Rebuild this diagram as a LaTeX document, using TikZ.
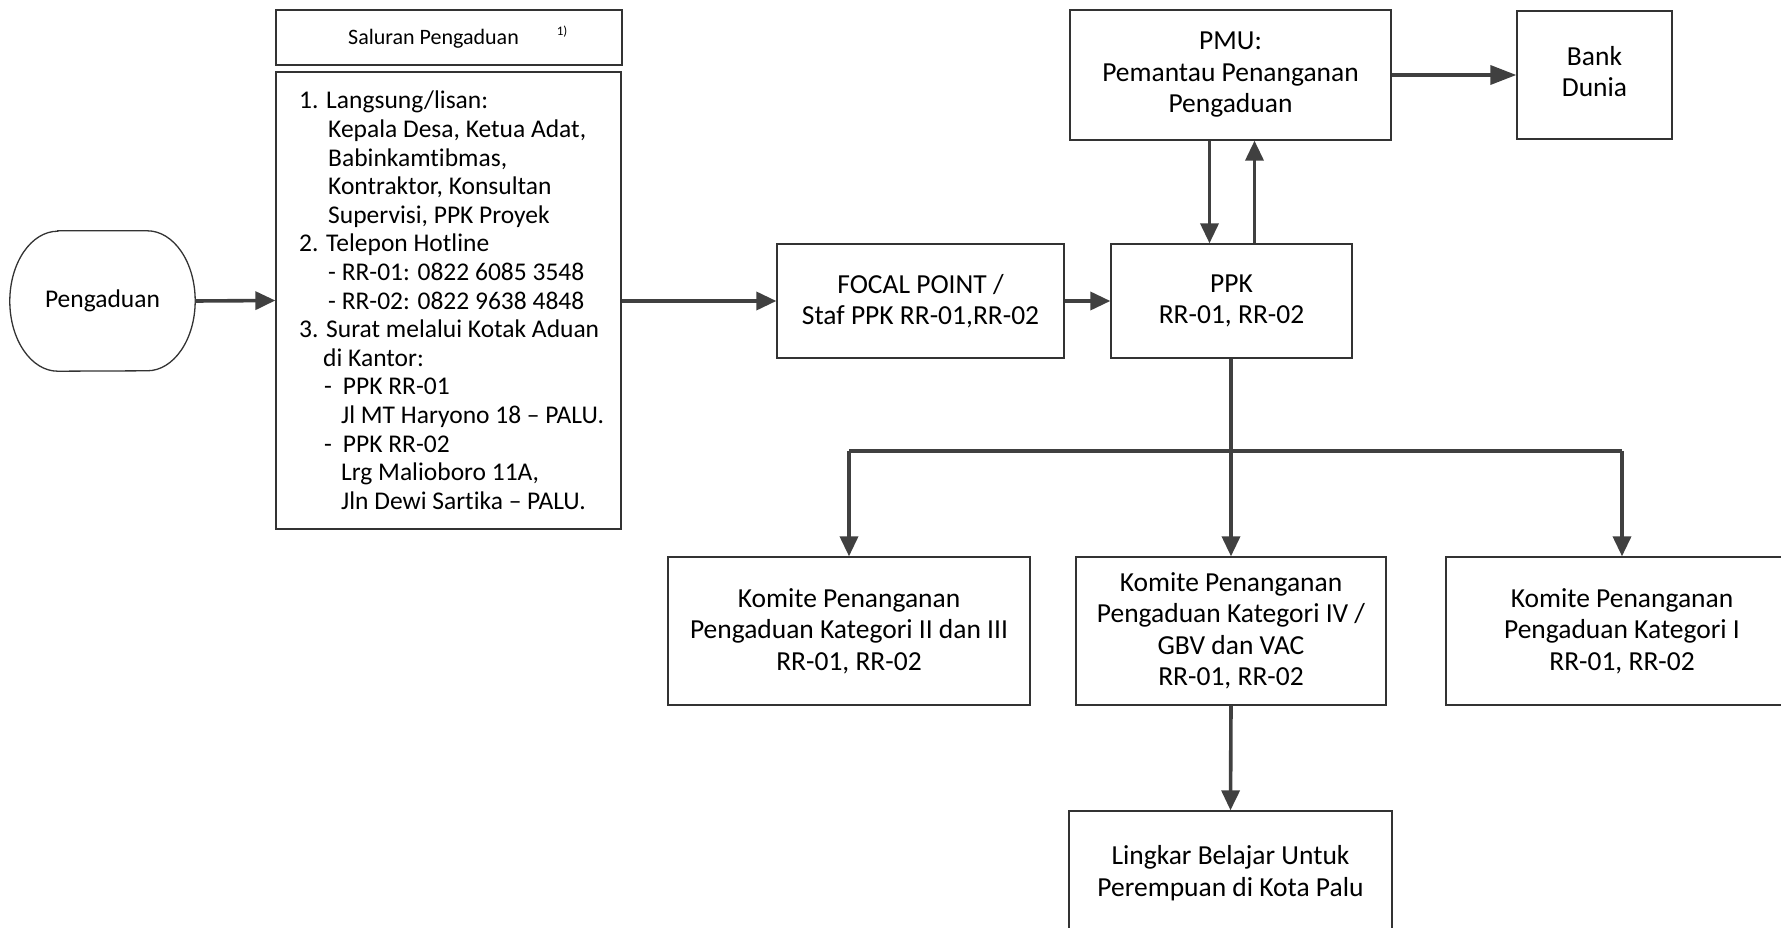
\documentclass[tikz,border=0pt]{standalone}
\usepackage{fontspec}
\setmainfont{Carlito}[Ligatures=NoCommon]
\usetikzlibrary{arrows.meta}
\definecolor{ln}{HTML}{404040}
\definecolor{bd}{HTML}{333333}
\begin{document}
\begin{tikzpicture}[x=1pt,y=-1pt,
  box/.style={draw=bd, line width=1.3pt, inner sep=0pt, align=center, font=\fontsize{27.5}{31.5}\selectfont},
  arr/.style={draw=ln, line width=3.6pt, -{Triangle[length=20pt,width=18pt]}},
  bigarr/.style={draw=ln, line width=3.6pt, -{Triangle[length=26pt,width=19pt]}},
  link/.style={draw=ln, line width=3.6pt}]
\path[use as bounding box] (0,0) rectangle (1781,928);
\clip (0,0) rectangle (1781,928);

\node[inner sep=0pt, minimum width=185pt, minimum height=140pt, font=\fontsize{25.5}{30}\selectfont] (peng) at (102.5,301) {Pengaduan};
\draw[draw=bd, line width=1.3pt] ([xshift=48pt]peng.north west) -- ([xshift=-48pt]peng.north east)
  arc[start angle=90, end angle=-90, x radius=48pt, y radius=70pt]
  -- ([xshift=48pt]peng.south west)
  arc[start angle=-90, end angle=-270, x radius=48pt, y radius=70pt] -- cycle;
\node[box, minimum width=346pt, minimum height=55pt] (sal) at (449,37.5) {};
\node[font=\fontsize{22}{26}\selectfont, inner sep=0pt, anchor=west] (saltext) at (348,37) {Saluran Pengaduan\hspace{38pt}\raisebox{9pt}{\fontsize{13}{15}\selectfont 1)}};
\node[box, minimum width=345pt, minimum height=457pt] (list) at (448.5,300.5) {};
\node[inner sep=0pt, anchor=north west, align=left, font=\fontsize{25.5}{28.6}\selectfont] (listtext) at (299,91) {%
1. Langsung/lisan:\\
\hspace*{29pt}Kepala Desa, Ketua Adat,\\
\hspace*{29pt}Babinkamtibmas,\\
\hspace*{29pt}Kontraktor, Konsultan\\
\hspace*{29pt}Supervisi, PPK Proyek\\
2. Telepon Hotline\\
\hspace*{29pt}- RR-01: 0822 6085 3548\\
\hspace*{29pt}- RR-02: 0822 9638 4848\\
3. Surat melalui Kotak Aduan\\
\hspace*{24pt}di Kantor:\\
\hspace*{25pt}-\hspace{11pt}PPK RR-01\\
\hspace*{42pt}Jl MT Haryono 18 – PALU.\\
\hspace*{25pt}-\hspace{11pt}PPK RR-02\\
\hspace*{42pt}Lrg Malioboro 11A,\\
\hspace*{42pt}Jln Dewi Sartika – PALU.};

\node[box, minimum width=287pt, minimum height=114pt] (focal) at (920.5,301) {FOCAL POINT /\\Staf PPK RR-01,RR-02};
\node[box, minimum width=241pt, minimum height=114pt] (ppk) at (1231.5,301) {PPK\\RR-01, RR-02};
\node[box, minimum width=321pt, minimum height=130pt] (pmu) at (1230.5,75) {PMU:\\Pemantau Penanganan\\Pengaduan};
\node[box, minimum width=155pt, minimum height=128pt] (bank) at (1594.5,75) {};
\node[font=\fontsize{27.5}{31.5}\selectfont, align=center, inner sep=0pt] (banktext) at (1594.5,71.5) {Bank\\Dunia};
\node[box, minimum width=362pt, minimum height=148pt] (k23) at (849,631) {Komite Penanganan\\Pengaduan Kategori II dan III\\RR-01, RR-02};
\node[box, minimum width=310pt, minimum height=148pt] (k4) at (1231,631) {Komite Penanganan\\Pengaduan Kategori IV /\\GBV dan VAC\\RR-01, RR-02};
\node[box, minimum width=352pt, minimum height=148pt] (k1) at (1622,631) {Komite Penanganan\\Pengaduan Kategori I\\RR-01, RR-02};
\node[box, minimum width=323pt, minimum height=124pt] (lingkar) at (1230.5,873) {Lingkar Belajar Untuk\\Perempuan di Kota Palu};

\draw[arr] (peng.east) -- (list.west);
\draw[arr] (list.east |- focal.west) -- (focal.west);
\draw[arr] (focal.east) -- (ppk.west);
\draw[bigarr] (pmu.east) -- (bank.west);
\draw[arr] ([xshift=-21pt]pmu.south) -- ([xshift=-21pt]pmu.south |- ppk.north);
\draw[arr] ([xshift=23pt]ppk.north) -- ([xshift=23pt]ppk.north |- pmu.south);
\coordinate (split) at (1231,451);
\draw[link] (ppk.south -| split) -- (split);
\draw[link] (k23.north |- split) -- (k1.north |- split);
\draw[arr] (split) -- (k4.north -| split);
\draw[arr] (k23.north |- split) -- (k23.north);
\draw[arr] (k1.north |- split) -- (k1.north);
\draw[arr] (k4.south) -- (lingkar.north);
\end{tikzpicture}
\end{document}
